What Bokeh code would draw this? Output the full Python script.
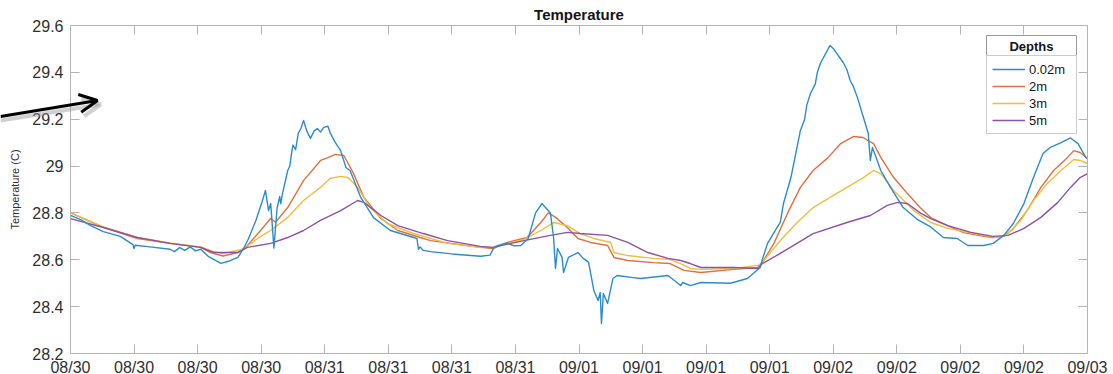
from bokeh.plotting import figure
from bokeh.models import (Range1d, FixedTicker, LinearAxis, CustomJSTickFormatter,
                          Legend, LegendItem, Arrow, OpenHead, Label, BoxAnnotation)
from bokeh.embed import file_html
from bokeh.resources import INLINE

# ---- time axis: hours since 08/30 00:00, ticks every 6 h ----
TICK_HOURS = [0, 6, 12, 18, 24, 30, 36, 42, 48, 54, 60, 66, 72, 78, 84, 90, 96]
TICK_LABELS = ["08/30", "08/30", "08/30", "08/30",
               "08/31", "08/31", "08/31", "08/31",
               "09/01", "09/01", "09/01", "09/01",
               "09/02", "09/02", "09/02", "09/02",
               "09/03"]
Y_TICKS = [28.2, 28.4, 28.6, 28.8, 29.0, 29.2, 29.4, 29.6]
Y_LABELS = ["28.2", "28.4", "28.6", "28.8", "29", "29.2", "29.4", "29.6"]

DEPTHS = ["0.02m", "2m", "3m", "5m"]

# ---- 0.02 m ----
H_002 = [0, 1.0, 1.9, 3.1, 4.7, 5.9, 6.0, 6.1, 7.5, 9.4,
         9.8, 10.3, 10.8, 11.3, 11.8, 12.3, 13.0, 14.2, 15.0, 15.8,
         16.3, 16.8, 17.5, 18.1, 18.4, 18.7, 18.9, 19.2, 19.5, 19.75,
         19.85, 20.0, 20.5, 20.7, 20.85, 21.0, 21.25, 21.5, 21.75, 22.0,
         22.3, 22.65, 23.0, 23.3, 23.6, 23.9, 24.3, 24.5, 25.0, 25.5,
         26.0, 26.4, 27.4, 28.6, 30.2, 32.4, 32.7, 32.85, 33.0, 33.3,
         34.0, 36.0, 38.7, 39.6, 40.0, 40.3, 41.2, 41.8, 42.5, 43.2,
         43.9, 44.5, 45.3, 45.6, 45.78, 45.97, 46.4, 46.54, 47.0, 47.9,
         48.4, 48.9, 49.4, 49.8, 50.0, 50.12, 50.3, 50.7, 51.2, 51.6,
         53.1, 53.8, 56.4, 57.6, 57.8, 58.5, 59.5, 62.3, 63.9, 65.1,
         65.3, 65.8, 66.7, 67.0, 67.3, 68.0, 68.9, 69.3, 69.5, 69.85,
         70.3, 70.5, 70.8, 71.7, 72.0, 72.97, 73.3, 73.6, 73.9, 74.3,
         74.85, 75.3, 75.5, 75.7, 76.5, 77.4, 78.6, 80.0, 81.2, 82.4,
         83.7, 84.7, 86.2, 87.1, 88.1, 89.0, 90.0, 90.9, 91.8, 92.5,
         93.5, 94.4, 95.1, 95.8, 96.0]
T_002 = [28.79, 28.77, 28.746, 28.72, 28.70, 28.665, 28.648, 28.662, 28.655, 28.645,
         28.635, 28.652, 28.64, 28.655, 28.638, 28.645, 28.615, 28.585, 28.595, 28.61,
         28.645, 28.69, 28.768, 28.85, 28.896, 28.81, 28.84, 28.65, 28.82, 28.87,
         28.84, 28.88, 28.98, 29.0, 29.05, 29.09, 29.07, 29.14, 29.16, 29.195,
         29.15, 29.118, 29.15, 29.16, 29.145, 29.165, 29.17, 29.143, 29.10, 29.066,
         28.994, 28.98, 28.866, 28.78, 28.725, 28.695, 28.69, 28.645, 28.655, 28.64,
         28.635, 28.625, 28.615, 28.62, 28.655, 28.66, 28.672, 28.66, 28.661, 28.69,
         28.80, 28.84, 28.80, 28.695, 28.563, 28.648, 28.61, 28.546, 28.61, 28.631,
         28.606, 28.59, 28.469, 28.426, 28.46, 28.328, 28.456, 28.414, 28.52, 28.533,
         28.524, 28.52, 28.533, 28.49, 28.503, 28.49, 28.503, 28.50, 28.52, 28.567,
         28.60, 28.67, 28.738, 28.76, 28.84, 28.95, 29.152, 29.20, 29.26, 29.31,
         29.35, 29.40, 29.44, 29.515, 29.502, 29.44, 29.41, 29.365, 29.34, 29.29,
         29.207, 29.14, 29.024, 29.079, 28.98, 28.909, 28.823, 28.77, 28.74, 28.695,
         28.691, 28.661, 28.661, 28.67, 28.704, 28.755, 28.84, 28.951, 29.054, 29.08,
         29.10, 29.12, 29.096, 29.04, 29.03]

# ---- 2 m ----
H_2 = [0, 3.1, 6.3, 9.4, 12.3, 13.2, 14.4, 15.8, 16.7, 17.65,
       18.9, 19.35, 20.5, 22.0, 23.6, 24.3, 25.0, 25.8, 26.7, 27.7,
       29.3, 30.9, 33.0, 34.0, 38.7, 39.9, 41.25, 43.1, 44.4, 45.1,
       45.8, 46.9, 47.9, 49.1, 50.7, 51.3, 52.6, 55.0, 56.6, 57.9,
       59.5, 62.6, 64.9, 65.3, 66.4, 67.7, 68.9, 70.1, 71.5, 72.7,
       73.9, 74.8, 75.8, 76.5, 77.7, 79.0, 80.2, 81.2, 82.8, 84.3,
       86.2, 87.1, 88.1, 89.0, 90.3, 91.6, 92.8, 94.1, 94.7, 95.3,
       96.0]
T_2 = [28.80, 28.738, 28.691, 28.67, 28.653, 28.631, 28.616, 28.631, 28.661, 28.71,
       28.776, 28.76, 28.823, 28.938, 29.024, 29.036, 29.05, 29.045, 28.97, 28.866,
       28.776, 28.725, 28.695, 28.682, 28.653, 28.648, 28.674, 28.695, 28.759, 28.80,
       28.781, 28.738, 28.691, 28.674, 28.661, 28.61, 28.597, 28.588, 28.584, 28.555,
       28.546, 28.559, 28.567, 28.588, 28.67, 28.80, 28.909, 28.981, 29.036, 29.096,
       29.126, 29.122, 29.096, 29.036, 28.951, 28.883, 28.823, 28.78, 28.746, 28.716,
       28.70, 28.695, 28.70, 28.733, 28.81, 28.909, 28.981, 29.036, 29.066, 29.058,
       29.032]

# ---- 3 m ----
H_3 = [0, 3.1, 6.3, 9.4, 12.3, 13.5, 14.4, 16.3, 17.65, 18.9,
       20.5, 22.0, 23.6, 24.5, 25.5, 26.2, 27.1, 28.3, 29.9, 32.4,
       35.6, 38.7, 39.9, 42.8, 44.4, 45.6, 46.9, 48.1, 49.4, 51.0,
       51.3, 52.6, 55.0, 56.6, 57.6, 58.5, 59.5, 62.6, 64.9, 65.3,
       67.0, 68.6, 70.1, 71.7, 73.3, 74.85, 75.8, 76.5, 77.7, 79.6,
       81.2, 82.8, 86.2, 87.5, 88.5, 89.7, 90.9, 92.2, 93.5, 94.7,
       95.3, 96.0]
T_3 = [28.80, 28.74, 28.695, 28.672, 28.655, 28.635, 28.627, 28.645, 28.691, 28.725,
       28.781, 28.853, 28.909, 28.947, 28.956, 28.951, 28.909, 28.823, 28.755, 28.712,
       28.67, 28.653, 28.653, 28.687, 28.725, 28.759, 28.746, 28.712, 28.691, 28.674,
       28.631, 28.618, 28.606, 28.601, 28.584, 28.563, 28.559, 28.563, 28.576, 28.588,
       28.682, 28.759, 28.823, 28.866, 28.909, 28.951, 28.981, 28.968, 28.896, 28.81,
       28.759, 28.734, 28.704, 28.695, 28.712, 28.768, 28.853, 28.926, 28.981, 29.028,
       29.024, 29.011]

# ---- 5 m ----
H_5 = [0, 3.1, 6.3, 9.4, 12.3, 13.5, 15.8, 16.7, 18.9, 20.5,
       22.0, 23.6, 25.5, 27.1, 27.7, 29.3, 30.9, 33.3, 35.6, 38.7,
       39.9, 42.8, 45.3, 46.9, 48.1, 50.7, 52.6, 54.5, 56.4, 57.6,
       58.5, 59.5, 62.6, 64.9, 65.3, 67.0, 70.1, 73.3, 75.5, 77.1,
       78.1, 79.0, 80.2, 81.2, 82.8, 85.0, 87.1, 88.5, 90.0, 91.6,
       93.2, 94.4, 95.3, 96.0]
T_5 = [28.776, 28.738, 28.695, 28.67, 28.653, 28.631, 28.631, 28.653, 28.67, 28.695,
       28.725, 28.768, 28.81, 28.853, 28.845, 28.789, 28.746, 28.712, 28.682, 28.657,
       28.653, 28.682, 28.704, 28.717, 28.712, 28.704, 28.674, 28.631, 28.606, 28.597,
       28.584, 28.567, 28.567, 28.563, 28.584, 28.627, 28.712, 28.759, 28.789, 28.832,
       28.845, 28.84, 28.80, 28.776, 28.746, 28.717, 28.70, 28.704, 28.734, 28.781,
       28.845, 28.909, 28.951, 28.968]

COLORS = ["#2b8ccc", "#e0703f", "#f0bd3c", "#9050a6"]

FONT = "Liberation Sans"
AXIS_GRAY = "#b4b4b4"
TEXT_DARK = "#303030"

X_FIRST, X_LAST = 0, 96
Y_START, Y_END = 28.2, 29.6

# The drawing frame fills the whole canvas so the pointer arrow and the tick
# labels are never clipped; the axes box itself is drawn with fixed-location
# axes from AXES_LEFT..AXES_RIGHT and AXES_TOP..AXES_BOTTOM (canvas pixels).
CANVAS_W, CANVAS_H = 1113, 374
AXES_LEFT, AXES_RIGHT, AXES_TOP, AXES_BOTTOM = 70, 1087, 25, 353
HOURS_PER_PX = (X_LAST - X_FIRST) / (AXES_RIGHT - AXES_LEFT)
DEG_PER_PX = (Y_END - Y_START) / (AXES_BOTTOM - AXES_TOP)


def px_x(px):
    return X_FIRST + (px - AXES_LEFT) * HOURS_PER_PX


def px_y(py):
    return Y_END - (py - AXES_TOP) * DEG_PER_PX


p = figure(width=CANVAS_W, height=CANVAS_H, output_backend="svg", toolbar_location=None,
           x_range=Range1d(px_x(0), px_x(CANVAS_W)),
           y_range=Range1d(px_y(CANVAS_H), px_y(0)),
           x_axis_type=None, y_axis_type=None,
           min_border=0, min_border_left=0, min_border_right=0,
           min_border_top=0, min_border_bottom=0,
           background_fill_color="white", border_fill_color="white")
p.xgrid.visible = False
p.ygrid.visible = False
p.outline_line_color = None

label_js = ("const i = tick_values.findIndex(t => Math.abs(t - tick) < 1e-6);"
            "return i >= 0 ? tick_labels[i] : '';")
blank_js = "return '';"


def style_axis(ax, show_labels=True):
    ax.major_tick_in = 9
    ax.major_tick_out = 0
    ax.minor_tick_line_color = None
    ax.axis_line_color = AXIS_GRAY
    ax.major_tick_line_color = AXIS_GRAY
    ax.major_label_text_font = FONT
    ax.major_label_text_color = TEXT_DARK
    if show_labels:
        ax.major_label_text_font_size = "16px"
    else:
        ax.major_label_text_font_size = "1px"
        ax.major_label_standoff = 0


x_bottom = LinearAxis(ticker=FixedTicker(ticks=TICK_HOURS), bounds=(X_FIRST, X_LAST),
                      fixed_location=Y_START,
                      formatter=CustomJSTickFormatter(
                          args=dict(tick_values=TICK_HOURS, tick_labels=TICK_LABELS),
                          code=label_js))
style_axis(x_bottom)
x_bottom.major_label_standoff = 5
p.add_layout(x_bottom, "below")

y_left = LinearAxis(ticker=FixedTicker(ticks=Y_TICKS), bounds=(Y_START, Y_END),
                    fixed_location=X_FIRST,
                    formatter=CustomJSTickFormatter(
                        args=dict(tick_values=Y_TICKS, tick_labels=Y_LABELS),
                        code=label_js),
                    axis_label="Temperature (C)")
style_axis(y_left)
y_left.major_label_standoff = 7
y_left.axis_label_text_font = FONT
y_left.axis_label_text_font_size = "11px"
y_left.axis_label_text_font_style = "normal"
y_left.axis_label_text_color = TEXT_DARK
y_left.axis_label_standoff = 8
p.add_layout(y_left, "left")

x_top = LinearAxis(ticker=FixedTicker(ticks=TICK_HOURS), bounds=(X_FIRST, X_LAST),
                   fixed_location=Y_END,
                   formatter=CustomJSTickFormatter(code=blank_js))
style_axis(x_top, show_labels=False)
p.add_layout(x_top, "above")

y_right = LinearAxis(ticker=FixedTicker(ticks=Y_TICKS), bounds=(Y_START, Y_END),
                     fixed_location=X_LAST,
                     formatter=CustomJSTickFormatter(code=blank_js))
style_axis(y_right, show_labels=False)
p.add_layout(y_right, "right")

# chart title centred over the axes box
p.add_layout(Label(x=px_x((AXES_LEFT + AXES_RIGHT) / 2), y=px_y(14), text="Temperature",
                   text_align="center", text_baseline="middle",
                   text_font=FONT, text_font_style="bold", text_font_size="15px",
                   text_color="#151515"))

renderers = []
for hours, temps, color in zip([H_002, H_2, H_3, H_5], [T_002, T_2, T_3, T_5], COLORS):
    r = p.line(hours, temps, line_color=color, line_width=1.4, line_join="round")
    renderers.append(r)

# surface series drawn last so it sits above the deeper sensors
p.renderers = p.renderers[1:] + p.renderers[:1]

legend = Legend(items=[LegendItem(label=d, renderers=[r]) for d, r in zip(DEPTHS, renderers)],
                location=(986, CANVAS_H - 134),
                padding=5, spacing=1, margin=0,
                label_height=16, glyph_height=16, glyph_width=33,
                label_width=42, label_standoff=4,
                label_text_font=FONT, label_text_font_size="13px", label_text_color="#151515",
                border_line_color="#9a9a9a", border_line_width=1,
                background_fill_color="white", background_fill_alpha=1)
p.add_layout(legend)

# header cell above the legend entries
header = BoxAnnotation(left=px_x(986), right=px_x(1076), top=px_y(35), bottom=px_y(57),
                       fill_color="white", fill_alpha=1,
                       line_color="#9a9a9a", line_width=1, line_alpha=1)
p.add_layout(header)
p.add_layout(Label(x=px_x(1031), y=px_y(46), text="Depths",
                   text_align="center", text_baseline="middle",
                   text_font=FONT, text_font_style="bold", text_font_size="13px",
                   text_color="#151515"))

# pointer arrow with a soft drop shadow
shadow = Arrow(end=OpenHead(size=18, line_width=4, line_color="#9a9a9a", line_alpha=0.45),
               x_start=px_x(0), y_start=px_y(120), x_end=px_x(100), y_end=px_y(104),
               line_width=4, line_color="#9a9a9a", line_alpha=0.45)
p.add_layout(shadow)
arrow = Arrow(end=OpenHead(size=18, line_width=3, line_color="black"),
              x_start=px_x(0), y_start=px_y(116), x_end=px_x(97), y_end=px_y(100),
              line_width=3, line_color="black")
p.add_layout(arrow)

open("out.html", "w").write(file_html(p, INLINE))
